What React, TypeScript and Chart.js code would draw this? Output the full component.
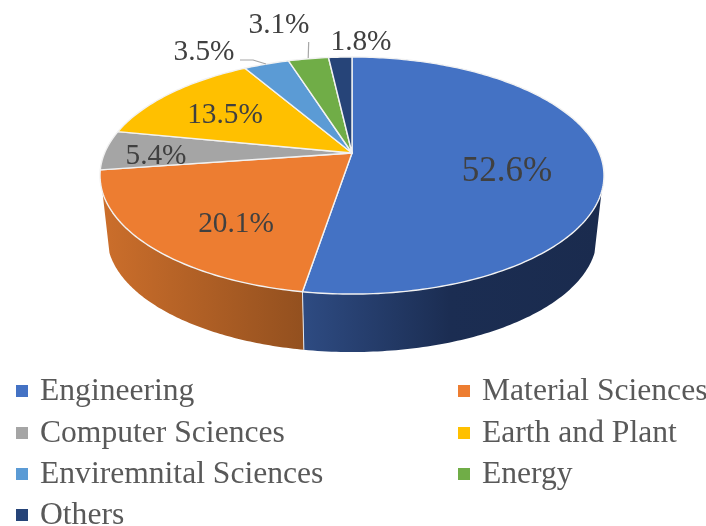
import React, { useEffect, useRef } from "react";
import { Chart, registerables } from "chart.js";

Chart.register(...registerables);

const categories = [
  "Engineering",
  "Material Sciences",
  "Computer Sciences",
  "Earth and Plant",
  "Enviremnital Sciences",
  "Energy",
  "Others",
];
const shares = [52.6, 20.1, 5.4, 13.5, 3.5, 3.1, 1.8];
const sliceColors = ["#4472C4", "#ED7D31", "#A5A5A5", "#FFC000", "#5B9BD5", "#70AD47", "#264478"];

// Label layout: centre x and baseline y, text size
const labelX = [507, 236, 156, 225, 204, 279, 361];
const labelY = [181, 232, 164, 123, 60, 33, 50];
const labelSize = [35, 29.3, 29.3, 29.3, 29.3, 29.3, 29.3];

// Legend layout
const legendCols = [
  [16, 40],
  [458, 482],
];
const legendRowY = [400, 442, 483, 524];

// Projection of the pie disc (perspective)
const CX = 352;
const CY = 153;
const A = 247.4;
const B = 85.2;
const P = 0.19;
const WALL_SCALE = 0.972;
const WALL_OFFSET = 66.2;
const WALL_FROM = (108.7 * Math.PI) / 180;
const WALL_TO = (251.3 * Math.PI) / 180;

const top = (t: number): [number, number] => {
  const u = Math.sin(t);
  const v = Math.cos(t);
  const w = 1 + P * v;
  return [CX + (A * u) / w, (CY - B * v) / w];
};
const bottom = (t: number): [number, number] => {
  const [x, y] = top(t);
  return [CX + (x - CX) * WALL_SCALE, y * WALL_SCALE + WALL_OFFSET];
};

const wallShades: Record<number, [number, string][]> = {
  0: [
    [303, "#2E4B82"],
    [450, "#1B2D52"],
    [604, "#1A2B4E"],
  ],
  1: [
    [104, "#CB6E2B"],
    [303, "#93501F"],
  ],
};

const pie3d = {
  id: "pie3d",
  beforeDatasetsDraw(chart: any) {
    const ctx: CanvasRenderingContext2D = chart.ctx;
    const arcs = chart.getDatasetMeta(0).data;
    const span = (a: any) => [a.startAngle + Math.PI / 2, a.endAngle + Math.PI / 2];

    ctx.save();
    ctx.lineJoin = "round";

    // side wall
    arcs.forEach((a: any, i: number) => {
      const [s, e] = span(a);
      const lo = Math.max(s, WALL_FROM);
      const hi = Math.min(e, WALL_TO);
      if (hi <= lo) return;
      const n = 90;
      ctx.beginPath();
      for (let k = 0; k <= n; k++) {
        const [x, y] = top(lo + ((hi - lo) * k) / n);
        k ? ctx.lineTo(x, y) : ctx.moveTo(x, y);
      }
      for (let k = n; k >= 0; k--) {
        const [x, y] = bottom(lo + ((hi - lo) * k) / n);
        ctx.lineTo(x, y);
      }
      ctx.closePath();
      const stops = wallShades[i];
      const g = ctx.createLinearGradient(stops[0][0], 0, stops[stops.length - 1][0], 0);
      const x0 = stops[0][0];
      const x1 = stops[stops.length - 1][0];
      stops.forEach(([x, c]) => g.addColorStop((x - x0) / (x1 - x0), c));
      ctx.fillStyle = g;
      ctx.fill();
    });
    // wall seams
    arcs.forEach((a: any) => {
      const [s] = span(a);
      if (s <= WALL_FROM || s >= WALL_TO) return;
      const [x0, y0] = top(s);
      const [x1, y1] = bottom(s);
      ctx.beginPath();
      ctx.moveTo(x0, y0);
      ctx.lineTo(x1, y1);
      ctx.strokeStyle = "#E4E8EE";
      ctx.lineWidth = 1;
      ctx.stroke();
    });

    // top face
    arcs.forEach((a: any, i: number) => {
      const [s, e] = span(a);
      const n = Math.max(8, Math.ceil((e - s) * 60));
      ctx.beginPath();
      ctx.moveTo(CX, CY);
      for (let k = 0; k <= n; k++) {
        const [x, y] = top(s + ((e - s) * k) / n);
        ctx.lineTo(x, y);
      }
      ctx.closePath();
      ctx.fillStyle = sliceColors[i];
      ctx.fill();
      ctx.strokeStyle = "#F2F2F2";
      ctx.lineWidth = 1.4;
      ctx.stroke();
    });

    // leader lines
    ctx.strokeStyle = "#A6A6A6";
    ctx.lineWidth = 1.2;
    ctx.beginPath();
    ctx.moveTo(240, 60);
    ctx.lineTo(253, 60);
    ctx.lineTo(266, 64);
    ctx.moveTo(308.7, 42);
    ctx.lineTo(308.2, 58);
    ctx.stroke();

    // value labels
    ctx.fillStyle = "#404040";
    ctx.textAlign = "center";
    ctx.textBaseline = "alphabetic";
    shares.forEach((v, i) => {
      ctx.font = `${labelSize[i]}px "Liberation Serif"`;
      ctx.fillText(`${v.toFixed(1)}%`, labelX[i], labelY[i]);
    });

    // legend
    ctx.textAlign = "left";
    ctx.font = `31.6px "Liberation Serif"`;
    categories.forEach((name, i) => {
      const [mx, tx] = legendCols[i % 2];
      const y = legendRowY[Math.floor(i / 2)];
      ctx.fillStyle = sliceColors[i];
      ctx.fillRect(mx, y - 15, 12, 12);
      ctx.fillStyle = "#595959";
      ctx.fillText(name, tx, y);
    });
    ctx.restore();
    return false;
  },
};

export default function App() {
  const ref = useRef<HTMLCanvasElement>(null);
  useEffect(() => {
    const chart = new Chart(ref.current!, {
      type: "pie",
      data: {
        labels: categories,
        datasets: [{ data: shares, backgroundColor: sliceColors }],
      },
      options: {
        animation: false,
        responsive: false,
        plugins: { legend: { display: false }, tooltip: { enabled: false } },
      },
      plugins: [pie3d],
    });
    return () => chart.destroy();
  }, []);
  return (
    <div style={{ position: "absolute", left: 0, top: 0, width: 706, height: 526, background: "#fff" }}>
      <canvas ref={ref} width={706} height={526} style={{ display: "block", filter: "blur(0.35px)" }} />
    </div>
  );
}
